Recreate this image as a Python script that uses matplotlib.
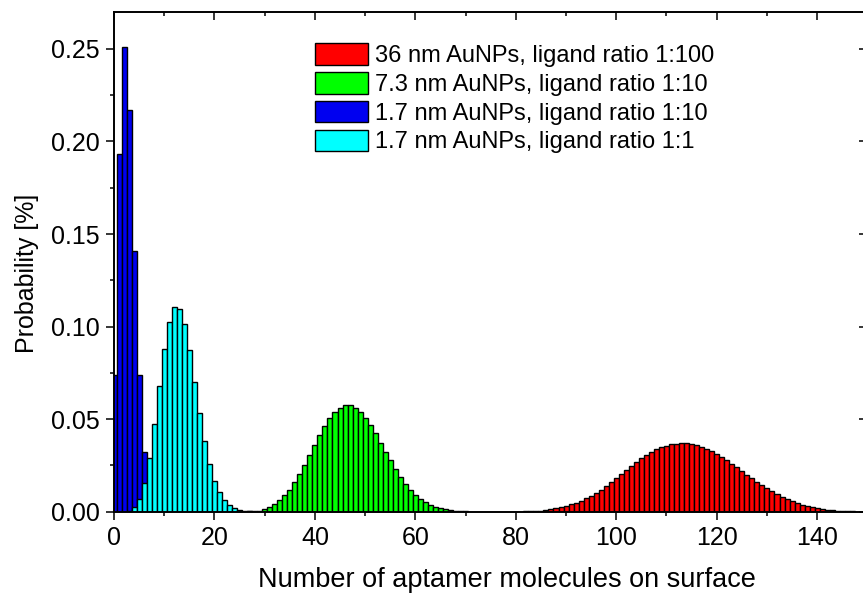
import numpy as np
import matplotlib

matplotlib.use("Agg")

import matplotlib.pyplot as plt
from matplotlib.lines import TICKDOWN, TICKLEFT
from matplotlib.ticker import FormatStrFormatter, MultipleLocator

plt.rcParams["font.family"] = ["Liberation Sans", "DejaVu Sans"]

# 36 nm AuNPs, ligand ratio 1:100  (x = 80 .. 149)
red_start = 80
red_vals = [
    0.0001, 0.0001, 0.0002, 0.0002, 0.0003, 0.0004, 0.0009, 0.0013, 0.0018, 0.0023,
    0.0031, 0.0040, 0.0049, 0.0059, 0.0072, 0.0087, 0.0103, 0.0119, 0.0139, 0.0159,
    0.0180, 0.0204, 0.0225, 0.0247, 0.0269, 0.0288, 0.0306, 0.0323, 0.0337, 0.0348,
    0.0357, 0.0364, 0.0368, 0.0370, 0.0370, 0.0366, 0.0360, 0.0351, 0.0341, 0.0328,
    0.0314, 0.0297, 0.0279, 0.0259, 0.0240, 0.0220, 0.0200, 0.0180, 0.0160, 0.0142,
    0.0126, 0.0110, 0.0096, 0.0081, 0.0068, 0.0058, 0.0047, 0.0038, 0.0029, 0.0023,
    0.0018, 0.0014, 0.0010, 0.0008, 0.0006, 0.0004, 0.0003, 0.0002, 0.0001, 0.0001,
]

# 7.3 nm AuNPs, ligand ratio 1:10  (x = 25 .. 70)
green_start = 25
green_vals = [
    0.0001, 0.0001, 0.0002, 0.0003, 0.0004, 0.0013, 0.0025, 0.0043, 0.0063, 0.0090,
    0.0119, 0.0160, 0.0202, 0.0252, 0.0305, 0.0359, 0.0413, 0.0463, 0.0505, 0.0539,
    0.0562, 0.0575, 0.0575, 0.0562, 0.0541, 0.0508, 0.0469, 0.0424, 0.0373, 0.0324,
    0.0278, 0.0233, 0.0189, 0.0151, 0.0117, 0.0090, 0.0068, 0.0050, 0.0036, 0.0025,
    0.0018, 0.0013, 0.0009, 0.0006, 0.0004, 0.0002,
]

# 1.7 nm AuNPs, ligand ratio 1:10  (x = 0 .. 9)
blue_start = 0
blue_vals = [0.074, 0.193, 0.251, 0.217, 0.141, 0.074, 0.032, 0.012, 0.004, 0.001]

# 1.7 nm AuNPs, ligand ratio 1:1  (x = 3 .. 27)
cyan_start = 3
cyan_vals = [
    0.0006, 0.0023, 0.0068, 0.0157, 0.0292, 0.0474, 0.0680, 0.0878, 0.1027, 0.1105,
    0.1094, 0.1013, 0.0874, 0.0699, 0.0532, 0.0382, 0.0256, 0.0168, 0.0106, 0.0063,
    0.0036, 0.0018, 0.0009, 0.0004, 0.0002,
]

series = [
    (red_start, red_vals, "#FF0000", "36 nm AuNPs, ligand ratio 1:100"),
    (green_start, green_vals, "#00FF00", "7.3 nm AuNPs, ligand ratio 1:10"),
    (blue_start, blue_vals, "#0000F0", "1.7 nm AuNPs, ligand ratio 1:10"),
    (cyan_start, cyan_vals, "#00FFFF", "1.7 nm AuNPs, ligand ratio 1:1"),
]

fig = plt.figure(figsize=(8.63, 5.95), dpi=100)
ax = fig.add_axes([0.1321, 0.14, 0.873, 0.84])

for start, vals, color, label in series:
    x = np.arange(start, start + len(vals))
    ax.bar(x, vals, width=1.0, color=color, edgecolor="black", linewidth=1.0, label=label)

ax.set_xlim(0, 150)
ax.set_ylim(0, 0.27)
ax.xaxis.set_major_locator(MultipleLocator(20))
ax.xaxis.set_minor_locator(MultipleLocator(10))
ax.yaxis.set_major_locator(MultipleLocator(0.05))
ax.yaxis.set_minor_locator(MultipleLocator(0.025))
ax.yaxis.set_major_formatter(FormatStrFormatter("%.2f"))

ax.tick_params(axis="both", which="major", direction="out", length=5.5, width=1.1,
               labelsize=18, colors="black", pad=5)
ax.tick_params(axis="both", which="minor", direction="out", length=3, width=1.1)
ax.tick_params(axis="x", which="both", top=True)
ax.tick_params(axis="y", which="both", right=True)

# mirror ticks on top / right point inward
for tick in ax.xaxis.get_major_ticks() + ax.xaxis.get_minor_ticks():
    tick.tick2line.set_marker(TICKDOWN)
for tick in ax.yaxis.get_major_ticks() + ax.yaxis.get_minor_ticks():
    tick.tick2line.set_marker(TICKLEFT)

for spine in ax.spines.values():
    spine.set_linewidth(1.4)

ax.set_xlabel("Number of aptamer molecules on surface", fontsize=19.5)
ax.xaxis.set_label_coords(0.522, -0.11)
ax.set_ylabel("Probability [%]", fontsize=18)
ax.yaxis.set_label_coords(-0.0995, 0.476)

ax.legend(loc="upper left", bbox_to_anchor=(0.2665, 0.937), frameon=False, fontsize=17,
          handlelength=2.25, handleheight=1.02, handletextpad=0.3, labelspacing=0.21,
          borderaxespad=0, borderpad=0)

fig.savefig("out.png", dpi=100, facecolor="white")
